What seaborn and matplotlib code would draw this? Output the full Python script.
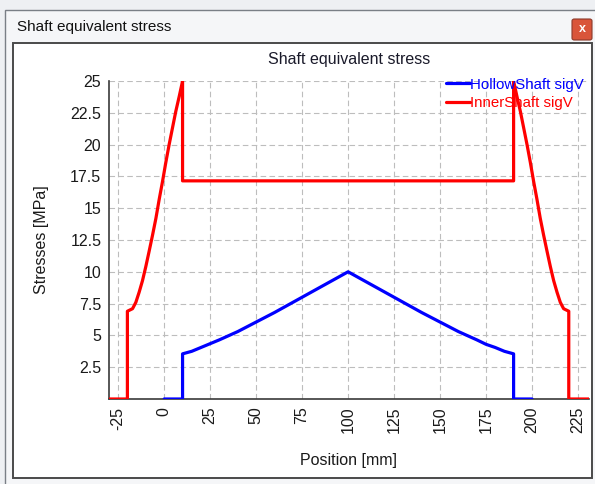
import matplotlib
matplotlib.use("Agg")
import matplotlib.pyplot as plt
from matplotlib.patches import Rectangle, FancyBboxPatch
import pandas as pd
import seaborn as sns

# Hollow shaft equivalent stress along the shaft
hollow_pos = [0, 10, 10, 15, 20, 30, 40, 50, 60, 70, 80, 90, 100,
              110, 120, 130, 140, 150, 160, 170, 175, 180, 185, 190, 190, 200]
hollow_sig = [0, 0, 3.55, 3.75, 4.05, 4.65, 5.3, 6.05, 6.8, 7.6, 8.4, 9.2, 10.0,
              9.2, 8.4, 7.6, 6.8, 6.05, 5.3, 4.65, 4.3, 4.05, 3.75, 3.55, 0, 0]

# Inner shaft equivalent stress along the shaft
inner_pos = [-30, -20, -20, -17.2, -15.4, -13.6, -11.8, -10.0, -8.2, -6.3, -4.5,
             -2.7, -0.9, 0.9, 2.7, 4.5, 6.3, 8.2, 10, 10,
             190, 190, 191.8, 193.7, 195.5, 197.3, 199.1, 200.9, 202.7, 204.5,
             206.3, 208.2, 210.0, 211.8, 213.6, 215.4, 217.2, 220, 220, 231]
inner_sig = [0, 0, 6.9, 7.1, 7.6, 8.4, 9.3, 10.4, 11.6, 12.9, 14.2,
             15.7, 17.1, 18.6, 20.0, 21.3, 22.6, 23.8, 25.0, 17.15,
             17.15, 25.0, 23.8, 22.6, 21.3, 20.0, 18.6, 17.1, 15.7, 14.2,
             12.9, 11.6, 10.4, 9.3, 8.4, 7.6, 7.1, 6.9, 0, 0]

series_names = ["HollowShaft sigV", "InnerShaft sigV"]
series_colors = ["#0000ff", "#ff0000"]

x_ticks = [-25, 0, 25, 50, 75, 100, 125, 150, 175, 200, 225]
y_ticks = [2.5, 5, 7.5, 10, 12.5, 15, 17.5, 20, 22.5, 25]
y_tick_labels = ["2.5", "5", "7.5", "10", "12.5", "15", "17.5", "20", "22.5", "25"]

df = pd.concat([
    pd.DataFrame({"Position": hollow_pos, "Stress": hollow_sig, "Series": series_names[0]}),
    pd.DataFrame({"Position": inner_pos, "Stress": inner_sig, "Series": series_names[1]}),
], ignore_index=True)

sns.set_style("white")
plt.rcParams["font.family"] = ["Liberation Sans", "DejaVu Sans"]

W, H = 595, 484
fig = plt.figure(figsize=(W / 100, H / 100), dpi=100, facecolor="#eef0f3")


def px_rect(x0, y0, x1, y1, **kw):
    """Rectangle given in pixel coordinates (origin top-left)."""
    return Rectangle((x0 / W, 1 - y1 / H), (x1 - x0) / W, (y1 - y0) / H,
                     transform=fig.transFigure, **kw)


# dialog window frame
fig.patches.append(px_rect(5, 10, 600, 490, facecolor="#f5f6f8",
                           edgecolor="#7a7f86", linewidth=1.0, zorder=-10))
# content panel
fig.patches.append(px_rect(13, 43, 592, 478, facecolor="white",
                           edgecolor="#4a4a4a", linewidth=1.4, zorder=-9))
# close button
fig.patches.append(FancyBboxPatch((572 / W, 1 - 40 / H), 20 / W, 21 / H,
                                  boxstyle="round,pad=0,rounding_size=0.004",
                                  transform=fig.transFigure,
                                  facecolor="#d9553a", edgecolor="#8c3a2a",
                                  linewidth=0.8, zorder=-8))
fig.text(582 / W, 1 - 29.5 / H, "x", color="white", fontsize=9,
         fontweight="bold", ha="center", va="center")
fig.text(17 / W, 1 - 27 / H, "Shaft equivalent stress", fontsize=11,
         color="#111111", ha="left", va="center")

ax = fig.add_axes([109 / W, 1 - 399 / H, (589 - 109) / W, (399 - 81) / H])
ax.set_facecolor("none")

sns.lineplot(data=df, x="Position", y="Stress", hue="Series",
             palette=dict(zip(series_names, series_colors)),
             sort=False, estimator=None, linewidth=2.3, ax=ax, zorder=3)

ax.set_xlim(min(inner_pos), max(inner_pos))
ax.set_ylim(0, 25)
ax.set_xticks(x_ticks)
ax.set_xticklabels([str(t) for t in x_ticks], rotation=90)
ax.set_yticks(y_ticks)
ax.set_yticklabels(y_tick_labels)

ax.grid(True, color="#bdbdbd", linestyle=(0, (5, 3)), linewidth=0.8, zorder=0)
for side in ["top", "right"]:
    ax.spines[side].set_visible(False)
for side in ["left", "bottom"]:
    ax.spines[side].set_color("#3a3a3a")
    ax.spines[side].set_linewidth(1.2)

ax.tick_params(axis="both", direction="inout", length=7, width=1.1,
               color="#2a2a2a", labelsize=11.5, labelcolor="#1a1a1a", pad=2)

ax.set_title("Shaft equivalent stress", fontsize=11.5, color="#1a1a2a", pad=12)
ax.set_xlabel("Position [mm]", fontsize=11.5, color="#1a1a1a", labelpad=14)
ax.set_ylabel("Stresses [MPa]", fontsize=11.5, color="#1a1a1a", labelpad=15)

leg = ax.legend(loc="upper right", bbox_to_anchor=(591 / W, 1 - 70 / H),
                bbox_transform=fig.transFigure, frameon=False,
                fontsize=10.8, handlelength=1.6, handletextpad=0.0,
                labelspacing=0.3, borderpad=0, labelcolor="linecolor",
                title=None)
for line in leg.get_lines():
    line.set_linewidth(2.3)

fig.savefig("out.png", dpi=100, facecolor=fig.get_facecolor())
